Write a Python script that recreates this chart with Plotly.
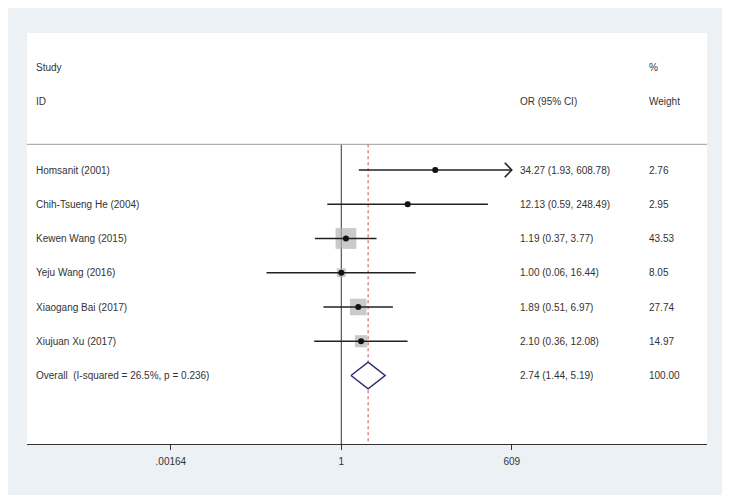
import plotly.graph_objects as go
import numpy as np

studies = ["Homsanit (2001)", "Chih-Tsueng He (2004)", "Kewen Wang (2015)",
           "Yeju Wang (2016)", "Xiaogang Bai (2017)", "Xiujuan Xu (2017)"]
or_vals = [34.27, 12.13, 1.19, 1.00, 1.89, 2.10]
ci_low = [1.93, 0.59, 0.37, 0.06, 0.51, 0.36]
ci_high = [608.78, 248.49, 3.77, 16.44, 6.97, 12.08]
weights = [2.76, 2.95, 43.53, 8.05, 27.74, 14.97]
overall_label = "Overall  (I-squared = 26.5%, p = 0.236)"
overall = [2.74, 1.44, 5.19]
overall_weight = 100.00
tick_vals = [0.00164, 1, 609]
tick_text = [".00164", "1", "609"]

FONT = "Liberation Sans, Arial, sans-serif"
TXT = "#333333"
XMIN_LOG, XMAX_LOG = -5.136, 5.975
AXMAX = 609

fig = go.Figure()

# reference line at 1
fig.add_trace(go.Scatter(x=[1, 1], y=[-0.75, 8], mode="lines",
                         line=dict(color="#555555", width=1.2), hoverinfo="skip"))
# overall estimate dashed line
fig.add_trace(go.Scatter(x=[overall[0], overall[0]], y=[-0.75, 8], mode="lines",
                         line=dict(color="#d46a6a", width=1.2, dash="3px,3px"), hoverinfo="skip"))

rows = list(range(len(studies)))
# weight boxes
fig.add_trace(go.Scatter(x=or_vals, y=rows, mode="markers",
                         marker=dict(symbol="square", color="#b3b3b3",
                                     size=[3.15 * np.sqrt(w) for w in weights],
                                     line=dict(width=0)), hoverinfo="skip"))
# CI lines
for i in rows:
    hi = min(ci_high[i], AXMAX)
    fig.add_trace(go.Scatter(x=[ci_low[i], hi], y=[i, i], mode="lines",
                             line=dict(color="#222222", width=1.6), hoverinfo="skip"))
    if ci_high[i] >= AXMAX * 0.99:
        back = AXMAX / 10 ** (7 / 61.2)
        fig.add_trace(go.Scatter(x=[back, AXMAX, back], y=[i - 0.21, i, i + 0.21],
                                 mode="lines", line=dict(color="#222222", width=1.6),
                                 hoverinfo="skip"))
# point estimates
fig.add_trace(go.Scatter(x=or_vals, y=rows, mode="markers",
                         marker=dict(symbol="circle", color="#111111", size=6),
                         hoverinfo="skip"))
# overall diamond
oy = len(studies)
fig.add_trace(go.Scatter(x=[overall[1], overall[0], overall[2], overall[0], overall[1]],
                         y=[oy, oy - 0.39, oy, oy + 0.39, oy], mode="lines",
                         fill="toself", fillcolor="white",
                         line=dict(color="#2e2e70", width=1.5), hoverinfo="skip"))

ann = []
def txt(x, y, s):
    ann.append(dict(x=x, y=y, xref="paper", yref="y", text=s, showarrow=False,
                    xanchor="left", yanchor="middle",
                    font=dict(family=FONT, size=10, color=TXT)))

XL = (34 - 27) / 680
XOR = (518 - 27) / 680
XW = (647 - 27) / 680
txt(XL, -3, "Study")
txt(XL, -2, "ID")
txt(XOR, -2, "OR (95% CI)")
txt(XW, -3, "%")
txt(XW, -2, "Weight")
for i in rows:
    txt(XL, i, studies[i])
    txt(XOR, i, f"{or_vals[i]:.2f} ({ci_low[i]:.2f}, {ci_high[i]:.2f})")
    txt(XW, i, f"{weights[i]:.2f}")
txt(XL, oy, overall_label)
txt(XOR, oy, f"{overall[0]:.2f} ({overall[1]:.2f}, {overall[2]:.2f})")
txt(XW, oy, f"{overall_weight:.2f}")

shapes = [
    dict(type="rect", xref="paper", yref="paper",
         x0=(4 - 27) / 680, x1=(725 - 27) / 680, y0=(444 - 495) / 411, y1=(444 - 7) / 411,
         fillcolor="#ebf1f4", line=dict(width=0), layer="below"),
    dict(type="rect", xref="paper", yref="paper", x0=0, x1=1, y0=0, y1=1,
         fillcolor="white", line=dict(width=0), layer="below"),
    dict(type="line", xref="paper", yref="y", x0=0, x1=1, y0=-0.75, y1=-0.75,
         line=dict(color="#9a9a9a", width=1)),
]

fig.update_layout(
    width=722, height=492, showlegend=False,
    margin=dict(l=19, r=23, t=25, b=56),
    paper_bgcolor="white", plot_bgcolor="rgba(0,0,0,0)",
    annotations=ann, shapes=shapes,
    xaxis=dict(type="log", range=[XMIN_LOG, XMAX_LOG], tickvals=tick_vals, ticktext=tick_text,
               showgrid=False, zeroline=False, showline=True, linecolor="#333333", linewidth=1,
               ticks="outside", ticklen=5, tickcolor="#333333", ticklabelstandoff=3,
               tickfont=dict(family=FONT, size=10, color=TXT)),
    yaxis=dict(range=[8, -4], visible=False, showgrid=False, zeroline=False),
)

fig.write_html("out.html")
